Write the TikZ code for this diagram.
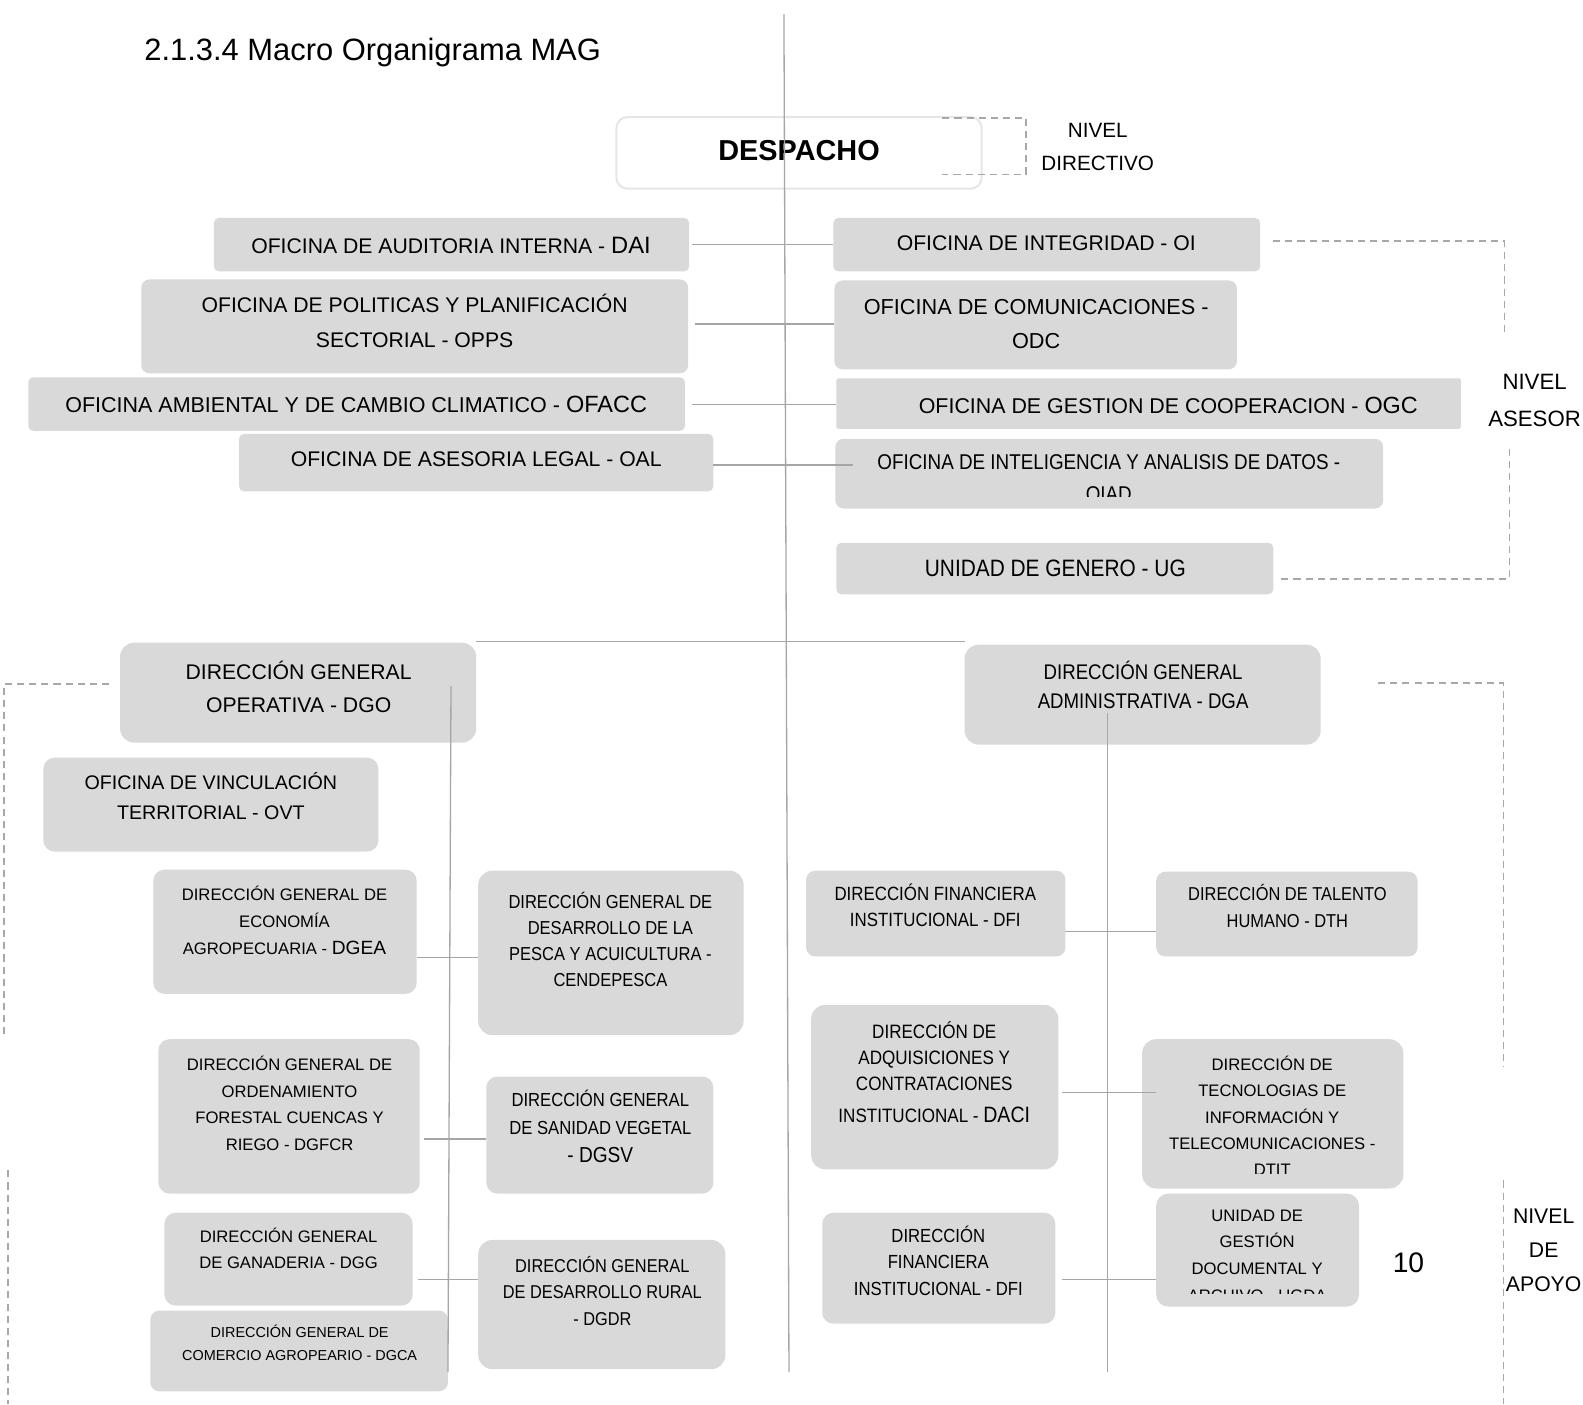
\documentclass[tikz,border=0pt]{standalone}
\usepackage{fontspec}
\setmainfont{Liberation Sans}
\newfontfamily\narrowf{Liberation Sans}[FakeStretch=0.88]
\definecolor{boxgray}{HTML}{D9D9D9}
\definecolor{linegray}{HTML}{A6A6A6}
\definecolor{dashgray}{HTML}{A8A8A8}
\definecolor{edgegray}{HTML}{E6E6E6}
\newcommand\fz[2]{\fontsize{#1}{#2}\selectfont}
\newcommand\gbox[6][]{\node[gbx,minimum width={#5-#3},minimum height={#6-#4},#1] (#2) at ({(#3+#5)/2},{(#4+#6)/2}) {};}
\begin{document}
\begin{tikzpicture}[x=1pt,y=-1pt,
  gbx/.style={fill=boxgray,draw=none,rounded corners=11pt,inner sep=0pt,outer sep=0pt},
  sharpish/.style={rounded corners=5pt},
  tx/.style={align=center,inner sep=0pt,text=black},
  conn/.style={draw=linegray,line width=1.3pt},
  dsh/.style={draw=dashgray,line width=1.6pt,dash pattern=on 7pt off 5pt}]
\useasboundingbox (0,0) rectangle (1569,1392);
\fill[white] (0,0) rectangle (1569,1392);

% ---------- boxes ----------
\node[draw=edgegray,line width=2pt,fill=white,rounded corners=11pt,inner sep=0pt,
  minimum width=362,minimum height=71] (desp) at (792,151.5) {};
\gbox[sharpish]{dai}{212}{216}{683}{269}
\gbox[rounded corners=8pt]{opps}{140}{277}{682}{370}
\gbox[sharpish]{ofacc}{28}{374}{679}{427}
\gbox[sharpish]{oal}{237}{430}{707}{487}
\gbox[sharpish]{oi}{826}{216}{1249}{269}
\gbox[rounded corners=8pt]{odc}{827}{278}{1226}{366}
\gbox[rounded corners=2pt]{ogc}{829}{375}{1448}{425}
\gbox[rounded corners=8pt]{oiad}{828}{435}{1371}{504}
\gbox[sharpish]{ug}{829}{538}{1262}{589}
\gbox[rounded corners=14pt]{dgo}{119}{637}{472}{736}
\gbox{ovt}{43}{751}{375}{844}
\gbox{dgea}{152}{862}{413}{985}
\gbox[rounded corners=14pt]{cend}{474}{863}{737}{1026}
\gbox{dgfcr}{157}{1030}{416}{1183}
\gbox{dgsv}{482}{1067}{707}{1183}
\gbox{dgg}{163}{1202}{409}{1294}
\gbox[rounded corners=14pt]{dgdr}{474}{1229}{719}{1357}
\gbox[rounded corners=9pt]{dgca}{149}{1299}{444}{1379}
\gbox[rounded corners=14pt]{dga}{956}{639}{1309}{738}
\gbox[rounded corners=9pt]{dfi}{799}{863}{1056}{948}
\gbox[rounded corners=9pt]{dth}{1146}{864}{1405}{948}
\gbox[rounded corners=14pt]{daci}{804}{996}{1049}{1159}
\gbox[rounded corners=14pt]{dtit}{1132}{1030}{1391}{1178}
\gbox{dfib}{815}{1202}{1046}{1312}
\gbox[rounded corners=12pt]{ugda}{1146}{1183}{1347}{1295}

% ---------- texts ----------
\node[tx,anchor=west,font=\fz{30.6}{36}] (title) at (143,52) {2.1.3.4 Macro Organigrama MAG};
\node[tx,font=\bfseries\fz{28.6}{34}] (despT) at (792,149) {DESPACHO};
\node[tx,font=\fz{20.5}{33}] (nivdir) at (1088,145.5) {NIVEL\\DIRECTIVO};

\node[tx,font=\fz{21}{34}] (daiT) at (447,243) {OFICINA DE AUDITORIA INTERNA - {\fz{23.5}{34}DAI}};
\node[tx,font=\fz{21}{34}] (oppsT) at (411,318) {OFICINA DE POLITICAS Y PLANIFICACIÓN\\SECTORIAL - OPPS};
\node[tx,font=\fz{21.3}{34}] (ofaccT) at (353,401) {OFICINA AMBIENTAL Y DE CAMBIO CLIMATICO - {\fz{23.3}{34}OFACC}};
\node[tx,font=\fz{21}{34}] (oalT) at (472,455) {OFICINA DE ASESORIA LEGAL - OAL};
\node[tx,font=\fz{21}{34}] (oiT) at (1037,241) {OFICINA DE INTEGRIDAD - OI};
\node[tx,font=\fz{21.5}{34}] (odcT) at (1027,321) {OFICINA DE COMUNICACIONES -\\ODC};
\node[tx,font=\fz{21.2}{34}] (ogcT) at (1158,402) {OFICINA DE GESTION DE COOPERACION - {\fz{23.2}{34}OGC}};
\begin{scope}
\clip (828,435) rectangle (1371,492);
\node[tx,font=\narrowf\fz{21.2}{32}] (oiadT) at (1099,474) {OFICINA DE INTELIGENCIA Y ANALISIS DE DATOS -\\OIAD};
\end{scope}
\node[tx,font=\narrowf\fz{23.5}{34}] (ugT) at (1046,563) {UNIDAD DE GENERO - UG};
\node[tx,font=\fz{22}{36}] (nivase) at (1521,397) {NIVEL\\ASESOR};

\node[tx,font=\fz{21}{33}] (dgoT) at (296,680.5) {DIRECCIÓN GENERAL\\OPERATIVA - DGO};
\node[tx,font=\fz{19.5}{30}] (ovtT) at (209,789) {OFICINA DE VINCULACIÓN\\TERRITORIAL - OVT};
\node[tx,font=\fz{16.5}{27}] (dgeaT) at (282,912) {DIRECCIÓN GENERAL DE\\ECONOMÍA\\AGROPECUARIA - {\fz{19}{27}DGEA}};
\node[tx,font=\narrowf\fz{18.6}{26}] (cendT) at (605,931) {DIRECCIÓN GENERAL DE\\DESARROLLO DE LA\\PESCA Y ACUICULTURA -\\CENDEPESCA};
\node[tx,font=\fz{16.5}{26.3}] (dgfcrT) at (287,1093.5) {DIRECCIÓN GENERAL DE\\ORDENAMIENTO\\FORESTAL CUENCAS Y\\RIEGO - DGFCR};
\node[tx,font=\narrowf\fz{18.75}{27.5}] (dgsvT) at (595,1116.5) {DIRECCIÓN GENERAL\\DE SANIDAD VEGETAL\\{\fz{21.5}{27.5}- DGSV}};
\node[tx,font=\fz{16.5}{26}] (dggT) at (286,1237) {DIRECCIÓN GENERAL\\DE GANADERIA - DGG};
\node[tx,font=\narrowf\fz{18.4}{26.5}] (dgdrT) at (597,1279.5) {DIRECCIÓN GENERAL\\DE DESARROLLO RURAL\\- DGDR};
\node[tx,font=\fz{14.3}{23}] (dgcaT) at (297,1331) {DIRECCIÓN GENERAL DE\\COMERCIO AGROPEARIO - DGCA};

\node[tx,font=\narrowf\fz{21}{29}] (dgaT) at (1133,678.5) {DIRECCIÓN GENERAL\\ADMINISTRATIVA - DGA};
\node[tx,font=\narrowf\fz{19}{26}] (dfiT) at (927,897) {DIRECCIÓN FINANCIERA\\INSTITUCIONAL - DFI};
\node[tx,font=\narrowf\fz{18.5}{27}] (dthT) at (1276,898) {DIRECCIÓN DE TALENTO\\HUMANO - DTH};
\node[tx,font=\narrowf\fz{19.2}{26}] (daciT) at (926,1062.5) {DIRECCIÓN DE\\ADQUISICIONES Y\\CONTRATACIONES\\[5pt]INSTITUCIONAL - {\fz{22}{26}DACI}};
\begin{scope}
\clip (1132,1030) rectangle (1391,1163);
\node[tx,font=\fz{16.5}{26}] (dtitT) at (1261,1106) {DIRECCIÓN DE\\TECNOLOGIAS DE\\INFORMACIÓN Y\\TELECOMUNICACIONES -\\DTIT};
\end{scope}
\node[tx,font=\narrowf\fz{18.8}{26.5}] (dfibT) at (930,1249.5) {DIRECCIÓN\\FINANCIERA\\INSTITUCIONAL - DFI};
\begin{scope}
\clip (1146,1183) rectangle (1347,1282);
\node[tx,font=\fz{16.5}{26.3}] (ugdaT) at (1246,1244.5) {UNIDAD DE\\GESTIÓN\\DOCUMENTAL Y\\ARCHIVO - UGDA};
\end{scope}
\node[tx,font=\fz{28}{34}] (pagenum) at (1396,1252) {10};
\node[tx,font=\fz{21}{33.5}] (nivapo) at (1530,1239.5) {NIVEL\\DE\\APOYO};

% ---------- connectors ----------
\coordinate (mtop) at (777,14);
\coordinate (mbot) at (782,1360);
\draw[conn] (mtop) -- (mbot);
\draw[conn] ([xshift=3pt]dai.east |- 0,242) -- (oi.west |- 0,242);
\draw[conn] ([xshift=7pt]opps.east |- 0,321) -- (odc.west |- 0,321);
\draw[conn] ([xshift=7pt]ofacc.east |- 0,401) -- (ogc.west |- 0,401);
\draw[conn] (oal.east |- 0,461) -- ([xshift=17pt]oiad.west |- 0,461);
\draw[conn] (dgo.east |- 0,636) -- (dga.west |- 0,636);
\coordinate (dgotop) at (447,680);
\coordinate (dgobot) at (444,1360);
\draw[conn] (dgotop) -- (dgobot);
\draw[conn] (dgea.east |- 0,949) -- (cend.west |- 0,949);
\draw[conn] ([xshift=4pt]dgfcr.east |- 0,1129) -- (dgsv.west |- 0,1129);
\draw[conn] ([xshift=5pt]dgg.east |- 0,1268) -- (dgdr.west |- 0,1268);
\coordinate (dgatop) at (1098,707);
\coordinate (dgabot) at (1098,1360);
\draw[conn] (dgatop) -- (dgabot);
\draw[conn] (dfi.east |- 0,923) -- (dth.west |- 0,923);
\draw[conn] ([xshift=4pt]daci.east |- 0,1083) -- ([xshift=14pt]dtit.west |- 0,1083);
\draw[conn] ([xshift=7pt]dfib.east |- 0,1268) -- (ugda.west |- 0,1268);

% ---------- level brackets ----------
\draw[dsh] (934,117) -- (1017,117) -- (1017,173) -- (934,173);
\draw[dsh] (1262,239) -- (1491,239) -- (1491,333);
\draw[dsh] (1496,445) -- (1496,574) -- (1266,574);
\draw[dsh] (108,678) -- (4,678) -- (4,1028);
\draw[dsh] (8,1160) -- (8,1392);
\draw[dsh] (1366,677) -- (1490,677) -- (1490,1058);
\draw[dsh] (1490,1170) -- (1490,1392);
\end{tikzpicture}
\end{document}
